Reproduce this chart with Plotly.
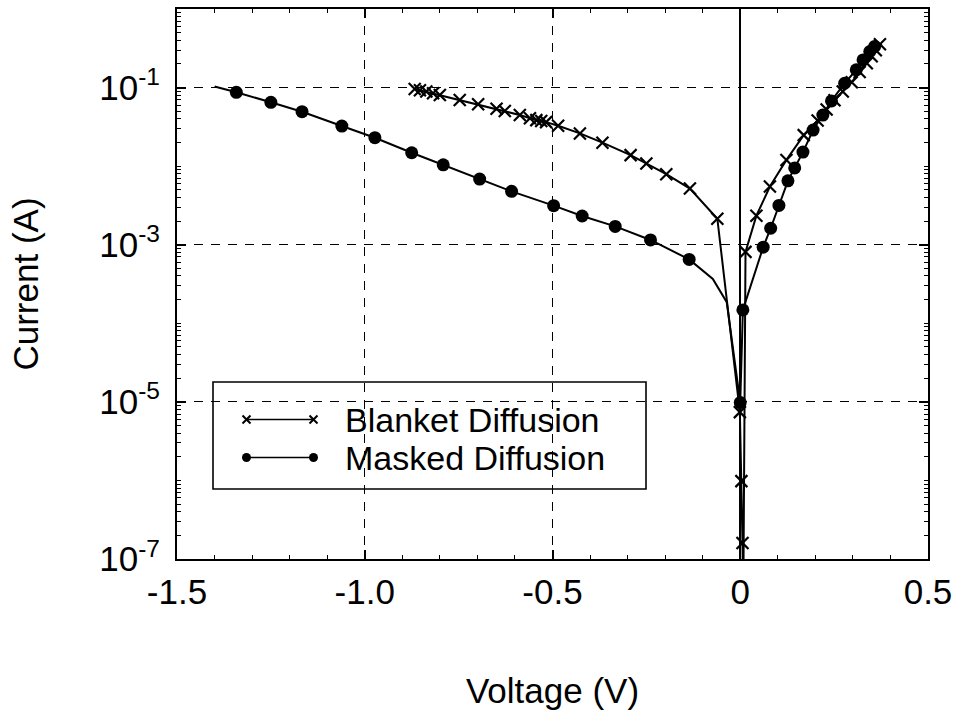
import plotly.graph_objects as go

# ---- measured I-V data -------------------------------------------------------
# Blanket diffusion: voltage (V), current (A), and whether a symbol is drawn
blanket_v = [-0.867, -0.853, -0.836, -0.818, -0.800, -0.747, -0.698, -0.649, -0.627,
             -0.587, -0.560, -0.543, -0.530, -0.517, -0.485, -0.427, -0.367, -0.292,
             -0.250, -0.197, -0.134, -0.061, -0.001, 0.003, 0.006, 0.008,
             0.014, 0.043, 0.079, 0.123, 0.169, 0.206, 0.230, 0.251, 0.273, 0.297,
             0.318, 0.337, 0.350, 0.361, 0.372]
blanket_i = [0.0959, 0.0923, 0.0889, 0.0845, 0.0804, 0.0695, 0.0612, 0.0537, 0.0504,
             0.0447, 0.0407, 0.0385, 0.0376, 0.0363, 0.0327, 0.0261, 0.0199, 0.0138,
             0.0108, 0.00789, 0.00518, 0.00214, 7.4e-6, 9.8e-7, 1.6e-7, 2.5e-8,
             8.1e-4, 2.34e-3, 5.5e-3, 1.2e-2, 2.48e-2, 3.8e-2, 5.25e-2, 6.9e-2, 8.9e-2, 0.117,
             0.158, 0.204, 0.251, 0.299, 0.355]
blanket_marked = [1] * 25 + [0] + [1] * 15

# Masked diffusion
masked_v = [-1.400, -1.342, -1.250, -1.167, -1.061, -0.973, -0.875, -0.791, -0.694,
            -0.609, -0.497, -0.421, -0.333, -0.239, -0.136, -0.073, -0.036, 0.000,
            0.007, 0.061, 0.081, 0.103, 0.127, 0.145, 0.167, 0.194, 0.220, 0.243,
            0.278, 0.309, 0.327, 0.345, 0.358]
masked_i = [0.103, 0.0871, 0.0649, 0.0493, 0.0324, 0.0230, 0.0148, 0.0104, 0.00684,
            0.00478, 0.00314, 0.00232, 0.00171, 0.00115, 6.5e-4, 3.66e-4, 1.86e-4, 9.8e-6,
            1.48e-4, 9.3e-4, 1.62e-3, 3.16e-3, 6.5e-3, 9.5e-3, 1.51e-2, 2.88e-2, 4.47e-2, 6.76e-2,
            0.1135, 0.168, 0.225, 0.288, 0.334]
masked_marked = [0] + [1] * 14 + [0, 0] + [1] * 16

x_ticks = [-1.5, -1.0, -0.5, 0, 0.5]
x_tick_labels = ["-1.5", "-1.0", "-0.5", "0", "0.5"]
y_ticks = [1e-7, 1e-5, 1e-3, 1e-1]
y_tick_labels = ["10<sup>-7</sup>", "10<sup>-5</sup>", "10<sup>-3</sup>", "10<sup>-1</sup>"]

series_names = ["Blanket Diffusion", "Masked Diffusion"]

FONT = "Liberation Sans, Arial, Helvetica, sans-serif"
BLACK = "#000000"

# plot-area frame in page pixels
W, H = 962, 726
PX_L, PX_R, PX_T, PX_B = 177, 928, 9, 559


def px_to_paper(px, py):
    return (px - PX_L) / (PX_R - PX_L), (PX_B - py) / (PX_B - PX_T)


fig = go.Figure()

fig.add_trace(go.Scatter(
    x=blanket_v, y=blanket_i, mode="lines+markers", name=series_names[0],
    line=dict(color=BLACK, width=2),
    marker=dict(symbol="x-thin", size=[12 * m for m in blanket_marked], opacity=1,
                color=BLACK, line=dict(color=BLACK, width=2.2)),
    showlegend=False,
))
fig.add_trace(go.Scatter(
    x=masked_v, y=masked_i, mode="lines+markers", name=series_names[1],
    line=dict(color=BLACK, width=2),
    marker=dict(symbol="circle", size=[13 * m for m in masked_marked], opacity=1,
                color=BLACK, line=dict(width=0)),
    showlegend=False,
))

# ---- boxed key on a pixel-scaled overlay axis --------------------------------
key_x0, key_x1 = 246.5, 313.5
key_rows = [419.5, 457.5]

fig.add_trace(go.Scatter(
    x=[key_x0, key_x1], y=[key_rows[0]] * 2, xaxis="x2", yaxis="y2",
    mode="lines+markers", line=dict(color=BLACK, width=1.6),
    marker=dict(symbol="x-thin", size=8, color=BLACK, opacity=1,
                line=dict(color=BLACK, width=2)),
    showlegend=False, hoverinfo="skip",
))
fig.add_trace(go.Scatter(
    x=[key_x0, key_x1], y=[key_rows[1]] * 2, xaxis="x2", yaxis="y2",
    mode="lines+markers", line=dict(color=BLACK, width=1.6),
    marker=dict(symbol="circle", size=9, color=BLACK, opacity=1, line=dict(width=0)),
    showlegend=False, hoverinfo="skip",
))

bx0, by0 = px_to_paper(213, 489)
bx1, by1 = px_to_paper(646, 382)
fig.add_shape(type="rect", xref="paper", yref="paper", x0=bx0, x1=bx1, y0=by0, y1=by1,
              line=dict(color=BLACK, width=1.6), fillcolor="white", layer="between")

for name, row in zip(series_names, key_rows):
    ax, ay = px_to_paper(343, row)
    fig.add_annotation(x=ax, y=ay, xref="paper", yref="paper", text=name, showarrow=False,
                       xanchor="left", yanchor="middle",
                       font=dict(family=FONT, size=34, color=BLACK))

minor_y = [m * 10.0 ** e for e in range(-7, 0) for m in range(1, 10)] + [1.0]

axis_common = dict(
    showline=True, linecolor=BLACK, linewidth=2, mirror="ticks",
    ticks="inside", ticklen=9, tickwidth=1.5, tickcolor=BLACK,
    showgrid=True, gridcolor=BLACK, gridwidth=1.2, griddash="9px,8px",
    tickfont=dict(family=FONT, size=35, color=BLACK),
    automargin=False,
)

fig.update_layout(
    width=W, height=H,
    margin=dict(l=PX_L, r=W - PX_R, t=PX_T, b=H - PX_B),
    paper_bgcolor="white", plot_bgcolor="white",
    font=dict(family=FONT, color=BLACK),
    xaxis=dict(
        range=[-1.5, 0.5], tickmode="array", tickvals=x_ticks, ticktext=x_tick_labels,
        zeroline=True, zerolinecolor=BLACK, zerolinewidth=1.6,
        ticklabelstandoff=1,
        minor=dict(ticks="inside", ticklen=4, tickwidth=1, tickcolor=BLACK,
                   dtick=0.1, tick0=0, showgrid=False),
        title=dict(text="Voltage (V)", font=dict(family=FONT, size=35, color=BLACK), standoff=68),
        **axis_common,
    ),
    yaxis=dict(
        type="log", range=[-7, 0], tickmode="array", tickvals=y_ticks, ticktext=y_tick_labels,
        ticklabelstandoff=8,
        minor=dict(ticks="inside", ticklen=4, tickwidth=1, tickcolor=BLACK,
                   tickmode="array", tickvals=minor_y, showgrid=False),
        title=dict(text="Current (A)", font=dict(family=FONT, size=35, color=BLACK), standoff=50),
        **axis_common,
    ),
    xaxis2=dict(overlaying="x", range=[PX_L, PX_R], visible=False, fixedrange=True),
    yaxis2=dict(overlaying="y", range=[PX_B, PX_T], visible=False, fixedrange=True),
)

fig.write_html("out.html")
